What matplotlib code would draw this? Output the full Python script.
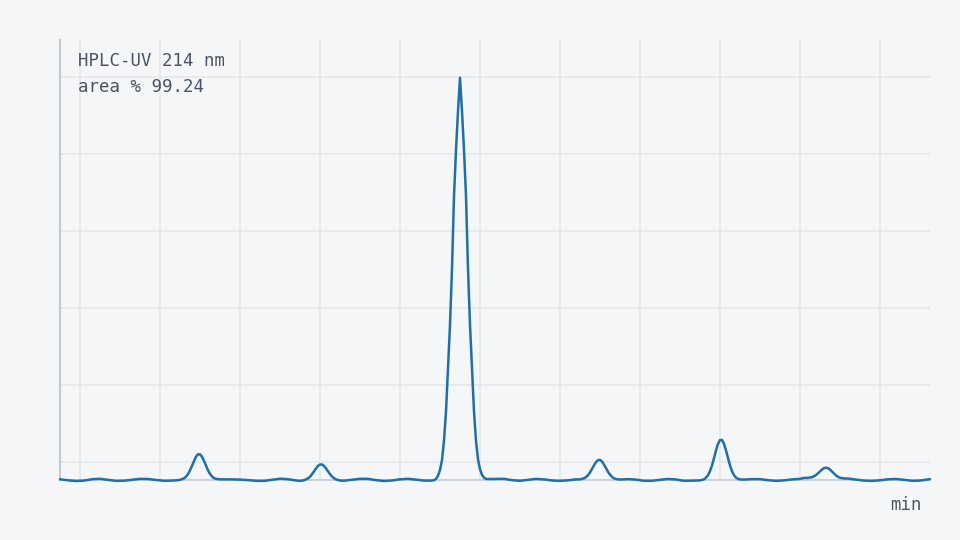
import matplotlib
matplotlib.use("Agg")
import matplotlib.pyplot as plt

# ---- data ----
time_min = [
    0.75, 0.85, 0.95, 1.05, 1.15, 1.25, 1.35, 1.45, 1.55, 1.65, 1.75, 1.85, 1.95, 2.05, 2.15,
    2.20, 2.25, 2.30, 2.325, 2.35, 2.375, 2.40, 2.425, 2.45, 2.475, 2.50, 2.525, 2.55, 2.575,
    2.60, 2.625, 2.65, 2.675, 2.70, 2.75,
    2.80, 2.90, 3.00, 3.10, 3.20, 3.30, 3.40, 3.50, 3.60, 3.70,
    3.75, 3.80, 3.85, 3.875, 3.90, 3.925, 3.95, 3.975, 4.00, 4.025, 4.05, 4.075, 4.10, 4.125,
    4.15, 4.175, 4.20, 4.25, 4.30,
    4.40, 4.50, 4.60, 4.70, 4.80, 4.90, 5.00, 5.10, 5.20, 5.30,
    5.400, 5.425, 5.450, 5.475, 5.500, 5.525, 5.550, 5.575, 5.600, 5.625, 5.650, 5.675,
    5.700, 5.725, 5.750, 5.775, 5.800, 5.825, 5.850, 5.875, 5.900, 5.925, 5.950, 5.975,
    6.000, 6.025, 6.050, 6.075, 6.100,
    6.20, 6.30, 6.40, 6.50, 6.60, 6.70, 6.80, 6.90, 7.00, 7.10, 7.20,
    7.25, 7.30, 7.325, 7.35, 7.375, 7.40, 7.425, 7.45, 7.475, 7.50, 7.525, 7.55, 7.575,
    7.60, 7.625, 7.65, 7.675, 7.70, 7.75,
    7.85, 7.95, 8.05, 8.15, 8.25, 8.35, 8.45, 8.55, 8.65,
    8.75, 8.80, 8.825, 8.85, 8.875, 8.90, 8.925, 8.95, 8.975, 9.00, 9.025, 9.05, 9.075,
    9.10, 9.125, 9.15, 9.175, 9.20, 9.225, 9.25, 9.30,
    9.40, 9.50, 9.60, 9.70, 9.80, 9.90, 10.00,
    10.05, 10.10, 10.15, 10.175, 10.20, 10.225, 10.25, 10.275, 10.30, 10.325, 10.35, 10.375,
    10.40, 10.425, 10.45, 10.475, 10.50, 10.55, 10.60,
    10.70, 10.80, 10.90, 11.00, 11.10, 11.20, 11.30, 11.40, 11.50, 11.60, 11.625,
]
absorbance_mau = [
    0.18, -0.08, -0.26, -0.16, 0.21, 0.31, 0.05, -0.23, -0.18, 0.05, 0.29, 0.26, 0.00, -0.21, -0.16,
    -0.09, 0.03, 0.43, 0.86, 1.54, 2.51, 3.71, 4.97, 6.05, 6.67, 6.67, 6.05, 4.97, 3.71,
    2.51, 1.59, 0.91, 0.50, 0.30, 0.18,
    0.18, 0.16, 0.10, -0.03, -0.21, -0.23, 0.05, 0.34, 0.21, -0.13,
    -0.23, -0.08, 0.42, 0.85, 1.52, 2.24, 3.01, 3.66, 4.03, 4.03, 3.66, 3.01, 2.24, 1.52,
    0.93, 0.47, 0.16, -0.15, -0.19,
    0.05, 0.31, 0.29, -0.03, -0.26, -0.13, 0.18, 0.31, 0.10, -0.16,
    -0.15, -0.05, 0.30, 1.10, 2.60, 5.20, 10.2, 17.8, 29.3, 40.3, 54.9, 73.7,
    85.7, 95.8, 104.5, 95.8, 85.7, 73.7, 54.9, 40.3, 29.3, 17.8, 10.2, 5.3,
    2.8, 1.35, 0.60, 0.30, 0.25,
    0.29, 0.31, -0.05, -0.21, 0.03, 0.29, 0.16, -0.13, -0.23, -0.08, 0.16,
    0.16, 0.43, 0.74, 1.25, 1.96, 2.86, 3.82, 4.66, 5.17, 5.21, 4.81, 4.00, 3.10,
    2.12, 1.39, 0.82, 0.45, 0.24, 0.13,
    0.23, 0.10, -0.21, -0.21, 0.05, 0.26, 0.13, -0.21, -0.18,
    -0.11, 0.17, 0.62, 1.25, 2.29, 3.79, 5.68, 7.68, 9.39, 10.38, 10.38, 9.39, 7.68,
    5.68, 3.79, 2.29, 1.25, 0.62, 0.32, 0.16, 0.11,
    0.23, 0.23, -0.05, -0.23, -0.10, 0.16, 0.29,
    0.55, 0.56, 0.73, 0.96, 1.29, 1.74, 2.24, 2.72, 3.07, 3.20, 3.07, 2.70,
    2.19, 1.66, 1.19, 0.83, 0.58, 0.41, 0.38,
    0.10, -0.16, -0.23, -0.08, 0.18, 0.26, 0.05, -0.21, -0.16, 0.16, 0.23,
]
label_detector = "HPLC-UV 214 nm"
label_area = "area % 99.24"
label_xunit = "min"

# ---- style ----
BG = "#f4f6f8"
GRID = "#e3e6eb"
SPINE = "#c4c9d1"
LINE = "#1f6fa8"
TEXT = "#4a5561"
MONO = ["DejaVu Sans Mono"]

fig = plt.figure(figsize=(9.6, 5.4), dpi=100, facecolor=BG)
ax = fig.add_axes([60 / 960, 60 / 540, 870 / 960, 440 / 540])
ax.set_facecolor(BG)

ax.plot(time_min, absorbance_mau, color=LINE, lw=1.8, clip_on=False,
        solid_joinstyle="round", solid_capstyle="round", zorder=3)

ax.set_xlim(0.75, 11.625)
ax.set_ylim(0, 114.3)
ax.set_xticks(range(1, 12))
ax.set_yticks([4.68 + 20 * k for k in range(6)])
ax.grid(True, color=GRID, lw=1.1, zorder=0)
ax.set_axisbelow(True)
ax.tick_params(length=0, labelleft=False, labelbottom=False)

for side in ("top", "right"):
    ax.spines[side].set_visible(False)
ax.spines["left"].set_color(SPINE)
ax.spines["left"].set_linewidth(1.5)
ax.spines["bottom"].set_color(SPINE)
ax.spines["bottom"].set_linewidth(1.2)

fig.text(78 / 960, (540 - 66) / 540, label_detector, family=MONO, fontsize=12.5,
         color=TEXT, ha="left", va="baseline")
fig.text(78 / 960, (540 - 92) / 540, label_area, family=MONO, fontsize=12.5,
         color=TEXT, ha="left", va="baseline")
fig.text(922 / 960, (540 - 510) / 540, label_xunit, family=MONO, fontsize=12.5,
         color=TEXT, ha="right", va="baseline")

fig.savefig("out.png", dpi=100, facecolor=BG)
